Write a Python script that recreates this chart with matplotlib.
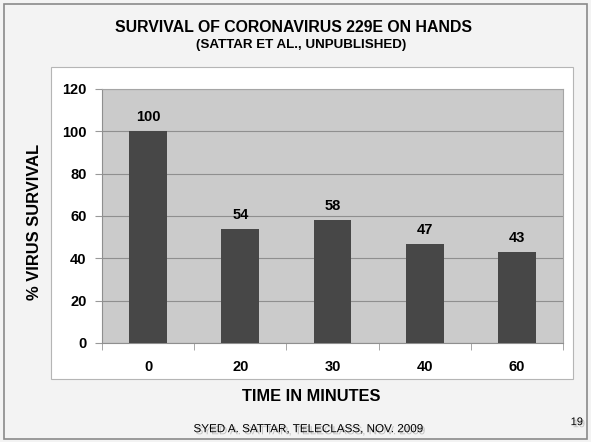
import matplotlib.pyplot as plt
import matplotlib.patheffects as pe
from matplotlib.patches import Rectangle

# data
times = ['0', '20', '30', '40', '60']
survival = [100, 54, 58, 47, 43]
yticks = [0, 20, 40, 60, 80, 100, 120]

plt.rcParams['font.family'] = ['Liberation Sans', 'DejaVu Sans']

fig = plt.figure(figsize=(5.91, 4.42), dpi=100)
fig.patch.set_facecolor('#f3f3f3')

# background axes for slide frame and white chart box
bg = fig.add_axes([0, 0, 1, 1], zorder=-1)
bg.set_xlim(0, 1)
bg.set_ylim(0, 1)
bg.axis('off')
bg.add_patch(Rectangle((0.006, 0.006), 0.988, 0.985, fill=False,
                       edgecolor='#8a8a8a', linewidth=1.2))
bg.add_patch(Rectangle((0.0863, 0.1425), 0.883, 0.706, facecolor='white',
                       edgecolor='#b5b5b5', linewidth=0.8))

ax = fig.add_axes([0.1726, 0.224, 0.780, 0.5747])
ax.set_facecolor('#cbcbcb')
x = list(range(len(times)))
bars = ax.bar(x, survival, width=0.41, color='#474747', zorder=3)

for xi, v in zip(x, survival):
    ax.annotate(str(v), (xi, v), xytext=(0, 5), textcoords='offset points',
                ha='center', va='bottom', fontsize=10.5, fontweight='bold', color='black')

ax.set_xlim(-0.5, len(times) - 0.5)
ax.set_ylim(0, 120)
ax.set_yticks(yticks)
ax.set_xticks(x)
ax.set_xticklabels(times)
ax.set_xticks([i - 0.5 for i in range(len(times) + 1)], minor=True)
ax.tick_params(axis='x', which='major', length=0, pad=12, labelsize=10.5)
ax.tick_params(axis='x', which='minor', length=5, color='#999999')
ax.tick_params(axis='y', length=5, color='#999999', pad=6, labelsize=10.5)
for lab in ax.get_xticklabels() + ax.get_yticklabels():
    lab.set_fontweight('bold')

ax.grid(axis='y', color='#8f8f8f', linewidth=0.8, zorder=1)
for s in ax.spines.values():
    s.set_color('#a5a5a5')
    s.set_linewidth(0.8)
ax.spines['left'].set_color('#8f8f8f')
ax.spines['bottom'].set_color('#8f8f8f')

shadow = [pe.withSimplePatchShadow(offset=(1.5, -1.5), shadow_rgbFace='#555555', alpha=0.3)]

fig.text(0.497, 0.938, 'SURVIVAL OF CORONAVIRUS 229E ON HANDS', ha='center', va='center',
         fontsize=11.4, fontweight='bold')
fig.text(0.509, 0.899, '(SATTAR ET AL., UNPUBLISHED)', ha='center', va='center',
         fontsize=9.6, fontweight='bold')
fig.text(0.058, 0.498, '% VIRUS SURVIVAL', ha='center', va='center', rotation=90,
         fontsize=11.9, fontweight='bold')
fig.text(0.527, 0.104, 'TIME IN MINUTES', ha='center', va='center',
         fontsize=11.8, fontweight='bold')
fig.text(0.521, 0.029, 'SYED A. SATTAR, TELECLASS, NOV. 2009', ha='center', va='center',
         fontsize=8.4, path_effects=shadow)
fig.text(0.976, 0.045, '19', ha='center', va='center', fontsize=8, path_effects=shadow)

fig.savefig('out.png', dpi=100, facecolor=fig.get_facecolor())
